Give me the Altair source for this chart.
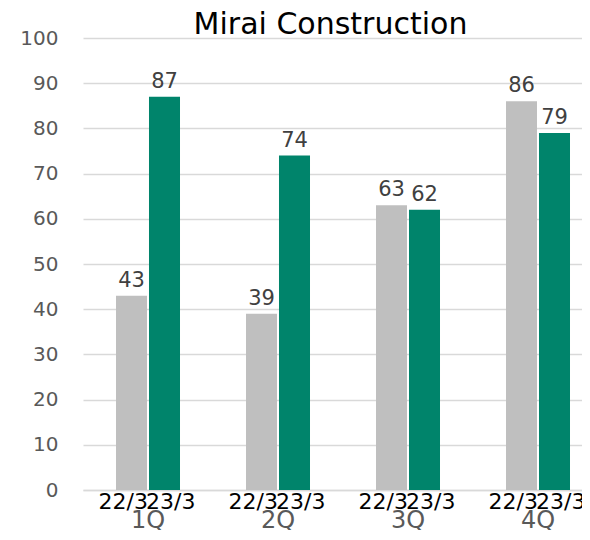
import altair as alt
import pandas as pd

quarters = ["1Q", "2Q", "3Q", "4Q"]
years = ["22/3", "23/3"]
values_22 = [43, 39, 63, 86]
values_23 = [87, 74, 62, 79]
y_ticks = list(range(0, 101, 10))
colors = ["#bfbfbf", "#00846b"]

rows = []
for i, q in enumerate(quarters):
    rows.append({"quarter": q, "year": years[0], "value": values_22[i]})
    rows.append({"quarter": q, "year": years[1], "value": values_23[i]})
df = pd.DataFrame(rows)

FONT = "DejaVu Sans"

x = alt.X(
    "quarter:N", sort=quarters,
    scale=alt.Scale(range=[0, 520], paddingInner=0, paddingOuter=0),
    axis=alt.Axis(title=None, labelAngle=0, labelFontSize=24, labelColor="#595959",
                  labelFont=FONT, labelBaseline="alphabetic", labelPadding=37,
                  ticks=False, tickSize=0, domainColor="#d9d9d9", domainWidth=1.5, grid=False),
)
xo = alt.XOffset("year:N", sort=years, scale=alt.Scale(paddingInner=0.06, paddingOuter=1.0))
y = alt.Y(
    "value:Q", scale=alt.Scale(domain=[0, 100]),
    axis=alt.Axis(values=y_ticks, title=None, labelFontSize=20, labelColor="#595959",
                  labelFont=FONT, labelPadding=25, ticks=False, tickSize=0, domain=False,
                  gridColor="#d9d9d9", gridWidth=1.5),
)

base = alt.Chart(df)

bars = base.mark_bar().encode(
    x=x, xOffset=xo, y=y,
    color=alt.Color("year:N", sort=years, scale=alt.Scale(domain=years, range=colors), legend=None),
)

vals = base.mark_text(font=FONT, fontSize=21, color="#404040", baseline="alphabetic", dy=-9).encode(
    x=x, xOffset=xo, y=y, text="value:Q"
)

yl1 = base.transform_filter(alt.datum.year == years[0]).mark_text(
    font=FONT, fontSize=22, color="black", baseline="alphabetic", align="right", dy=19, dx=0
).encode(x=x, y=alt.datum(0), text="year:N")
yl2 = base.transform_filter(alt.datum.year == years[1]).mark_text(
    font=FONT, fontSize=22, color="black", baseline="alphabetic", align="left", dy=19, dx=-2
).encode(x=x, y=alt.datum(0), text="year:N")

chart = alt.layer(bars, vals, yl1, yl2).properties(
    width=499, height=452,
    padding={"left": 75, "top": 30, "right": 0, "bottom": 40},
    autosize=alt.AutoSizeParams(type="none"),
    title=alt.Title("Mirai Construction", fontSize=30, font=FONT, color="black",
                    fontWeight="normal", anchor="middle", frame="group",
                    baseline="alphabetic", offset=-36, dx=-2),
).configure_view(stroke=None)

chart.save("out.html", embed_options={"renderer": "svg", "actions": False})
